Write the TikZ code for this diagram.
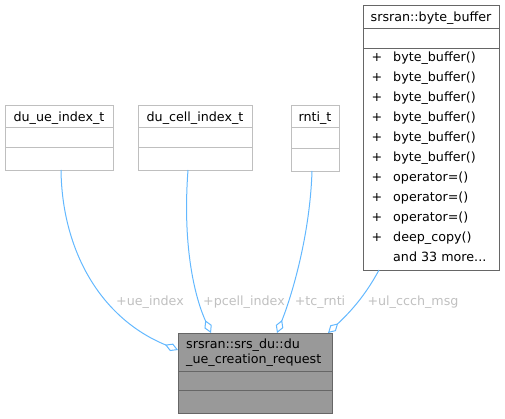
\documentclass[tikz,border=0pt]{standalone}
\usepackage{fontspec}
\setmainfont{DejaVu Sans}
\usetikzlibrary{arrows.meta}
\definecolor{edgeblue}{HTML}{63B8FF}
\definecolor{boxgray}{HTML}{BFBFBF}
\definecolor{mainfill}{HTML}{999999}
\definecolor{mainline}{HTML}{666666}
\definecolor{labelgray}{HTML}{C0C0C0}
\begin{document}
\begin{tikzpicture}[x=1pt,y=-1pt,
  font=\fontsize{12.7}{15}\selectfont,
  umlbox/.style={draw=boxgray, line width=1pt, fill=white, inner sep=0pt, anchor=north west},
  mainbox/.style={draw=mainline, line width=1pt, fill=mainfill, inner sep=0pt, anchor=north west},
  sepline/.style={draw=boxgray, line width=1pt},
  mainsep/.style={draw=mainline, line width=1pt},
  txt/.style={inner sep=0pt, anchor=base},
  ltxt/.style={inner sep=0pt, anchor=base west},
  elabel/.style={inner sep=0pt, anchor=base, text=labelgray},
  assoc/.style={draw=edgeblue, line width=1pt, -{Diamond[open, length=14pt, width=8pt, line width=1pt]}}
]
\useasboundingbox (0,0) rectangle (505,419);

% du_ue_index_t
\node[umlbox, minimum width=108pt, minimum height=65pt] (ue) at (5,105) {};
\draw[sepline] (5,128) -- (113,128);
\draw[sepline] (5,148) -- (113,148);
\node[txt] (uet) at (59,121.5) {du\_ue\_index\_t};

% du_cell_index_t
\node[umlbox, minimum width=114pt, minimum height=65pt] (cell) at (138,105) {};
\draw[sepline] (138,128) -- (252,128);
\draw[sepline] (138,148) -- (252,148);
\node[txt] (cellt) at (195,121.5) {du\_cell\_index\_t};

% rnti_t
\node[umlbox, minimum width=48pt, minimum height=66pt] (rnti) at (291,105) {};
\draw[sepline] (291,128) -- (339,128);
\draw[sepline] (291,149) -- (339,149);
\node[txt] (rntit) at (315,121.5) {rnti\_t};

% byte_buffer
\node[umlbox, minimum width=136pt, minimum height=265pt, draw=mainline] (bb) at (363,5) {};
\draw[mainsep] (363,29) -- (499,29);
\draw[mainsep] (363,49) -- (499,49);
\node[txt] (bbt) at (431,21.5) {srsran::byte\_buffer};
\foreach \i/\t in {0/byte\_buffer(),1/byte\_buffer(),2/byte\_buffer(),3/byte\_buffer(),4/byte\_buffer(),5/byte\_buffer(),6/operator=(),7/operator=(),8/operator=(),9/deep\_copy()}{
  \node[txt] (bbp\i) at (377,61.5+20*\i) {+};
  \node[ltxt] (bbm\i) at (393,61.5+20*\i) {\t};
}
\node[ltxt] (bbmore) at (393,261.5) {and 33 more...};

% main class
\node[mainbox, minimum width=154pt, minimum height=80pt] (main) at (178,333) {};
\draw[mainsep] (178,371) -- (332,371);
\draw[mainsep] (178,390) -- (332,390);
\node[ltxt] (mt1) at (186,348.5) {srsran::srs\_du::du};
\node[ltxt] (mt2) at (186,363.5) {\_ue\_creation\_request};

% connectors
\coordinate (s1) at (61,170);
\coordinate (e1) at (178,350);
\coordinate (s2) at (188,170);
\coordinate (e2) at (211,333);
\coordinate (s3) at (312,171);
\coordinate (e3) at (277,333);
\coordinate (s4) at (379,270);
\coordinate (e4) at (328,333);
\draw[assoc] (s1) .. controls (62,250) and (100,318) .. (e1);
\draw[assoc] (s2) .. controls (182,250) and (196,300) .. (e2);
\draw[assoc] (s3) .. controls (310,235) and (292,295) .. (e3);
\draw[assoc] (s4) .. controls (364,298) and (348,314) .. (e4);

% labels
\node[elabel] (l1) at (150,305.5) {+ue\_index};
\node[elabel] (l2) at (244,305.5) {+pcell\_index};
\node[elabel] (l3) at (320,305.5) {+tc\_rnti};
\node[elabel] (l4) at (413,305.5) {+ul\_ccch\_msg};
\end{tikzpicture}
\end{document}
